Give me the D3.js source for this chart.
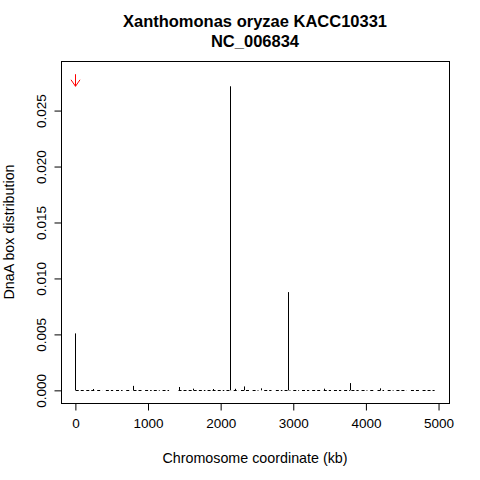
<!DOCTYPE html>
<html>
<head>
  <script src="https://d3js.org/d3.v7.min.js"></script>
  <style>
  body { margin: 0; background: #fff; }
  svg { font-family: "Liberation Sans", Arial, sans-serif; }
  </style>
</head>
<body>
  <script>
    // tall peaks of the DnaA box distribution (kb, value)
    var peakPos = [0, 2132, 2931, 788, 1420, 2320, 2560, 3781, 3420, 4200, 240, 1620, 1900, 2200];
    var peakVal = [0.00509, 0.02717, 0.00878, 0.00040, 0.00030, 0.00035, 0.00018, 0.00065, 0.00015, 0.00018, 0.00012, 0.00015, 0.00012, 0.00014];

    // stretches of tiny non-zero values near the baseline (start kb, end kb)
    var runStart = [5, 150, 300, 420, 560, 700, 800, 960, 1080, 1200, 1420, 1560, 1700, 1820, 1960, 2080, 2180, 2280, 2440, 2600, 2760, 2880, 3000, 3120, 3260, 3420, 3560, 3700, 3800, 3940, 4060, 4160, 4300, 4420, 4620, 4780];
    var runEnd   = [120, 260, 370, 520, 650, 770, 930, 1050, 1160, 1290, 1530, 1670, 1790, 1930, 2050, 2150, 2250, 2400, 2520, 2700, 2850, 2960, 3080, 3220, 3380, 3520, 3660, 3780, 3900, 4020, 4120, 4250, 4380, 4560, 4740, 4946];
    var runVal = 0.00006;

    var xTicks = [0, 1000, 2000, 3000, 4000, 5000];
    var yTicks = [0, 0.005, 0.010, 0.015, 0.020, 0.025];
    var arrowPos = 0;
    var arrowTop = 0.02825, arrowBottom = 0.02717;

    var width = 480, height = 480;
    var mLeft = 61, mRight = 449, mTop = 61, mBottom = 403;

    var svg = d3.select("body").append("svg")
      .attr("width", width)
      .attr("height", height);

    var x = d3.scaleLinear().domain([-198, 5144]).range([mLeft, mRight]);
    var y = d3.scaleLinear().domain([-0.00113, 0.02943]).range([mBottom, mTop]);

    // baseline runs
    svg.append("g").selectAll("line")
      .data(d3.range(runStart.length))
      .enter().append("line")
      .attr("x1", function(i) { return x(runStart[i]); })
      .attr("x2", function(i) { return x(runEnd[i]); })
      .attr("y1", Math.round(y(runVal)) + 0.5)
      .attr("y2", Math.round(y(runVal)) + 0.5)
      .attr("stroke", "#000")
      .attr("stroke-width", 1)
      .attr("stroke-dasharray", "3,2");

    // peaks, type = "h"
    svg.append("g").selectAll("line")
      .data(d3.range(peakPos.length))
      .enter().append("line")
      .attr("x1", function(i) { return Math.round(x(peakPos[i])) + 0.5; })
      .attr("x2", function(i) { return Math.round(x(peakPos[i])) + 0.5; })
      .attr("y1", y(0))
      .attr("y2", function(i) { return y(peakVal[i]); })
      .attr("stroke", "#000")
      .attr("stroke-width", 1);

    // red arrow marking the origin
    var ax = Math.round(x(arrowPos)) + 0.5;
    svg.append("path")
      .attr("d", "M" + ax + "," + y(arrowTop) + "L" + ax + "," + y(arrowBottom) +
        "M" + (ax - 4.5) + "," + (y(arrowBottom) - 6.5) + "L" + ax + "," + y(arrowBottom) +
        "L" + (ax + 4.5) + "," + (y(arrowBottom) - 6.5))
      .attr("fill", "none")
      .attr("stroke", "#ff0000")
      .attr("stroke-width", 1);

    // box
    svg.append("rect")
      .attr("x", mLeft + 0.5).attr("y", mTop + 0.5)
      .attr("width", mRight - mLeft).attr("height", mBottom - mTop)
      .attr("fill", "none").attr("stroke", "#000");

    // x axis
    var gx = svg.append("g").attr("transform", "translate(0," + (mBottom + 0.5) + ")")
      .call(d3.axisBottom(x).tickValues(xTicks).tickSize(7).tickPadding(8).tickFormat(d3.format("d")));
    gx.select(".domain").remove();
    gx.selectAll("text").attr("font-size", 13.5).attr("font-family", "Liberation Sans, Arial, sans-serif").attr("fill", "#000");

    // y axis
    var gy = svg.append("g").attr("transform", "translate(" + (mLeft + 0.5) + ",0)")
      .call(d3.axisLeft(y).tickValues(yTicks).tickSize(7).tickFormat(d3.format(".3f")));
    gy.select(".domain").remove();
    gy.selectAll("text")
      .attr("font-size", 13.5)
      .attr("font-family", "Liberation Sans, Arial, sans-serif")
      .attr("fill", "#000")
      .attr("x", null).attr("dy", null)
      .attr("text-anchor", "middle")
      .attr("transform", "translate(-16,0) rotate(-90)");

    // titles
    var cx = (mLeft + mRight) / 2;
    svg.append("text").attr("x", cx).attr("y", 27).attr("text-anchor", "middle")
      .attr("font-size", 16.5).attr("font-weight", "bold").text("Xanthomonas oryzae KACC10331");
    svg.append("text").attr("x", cx).attr("y", 47).attr("text-anchor", "middle")
      .attr("font-size", 16.5).attr("font-weight", "bold").text("NC_006834");

    svg.append("text").attr("x", cx).attr("y", 463).attr("text-anchor", "middle")
      .attr("font-size", 14.3).text("Chromosome coordinate (kb)");
    svg.append("text").attr("transform", "translate(14," + ((mTop + mBottom) / 2) + ") rotate(-90)")
      .attr("text-anchor", "middle").attr("font-size", 14.3).text("DnaA box distribution");
  </script>
</body>
</html>
